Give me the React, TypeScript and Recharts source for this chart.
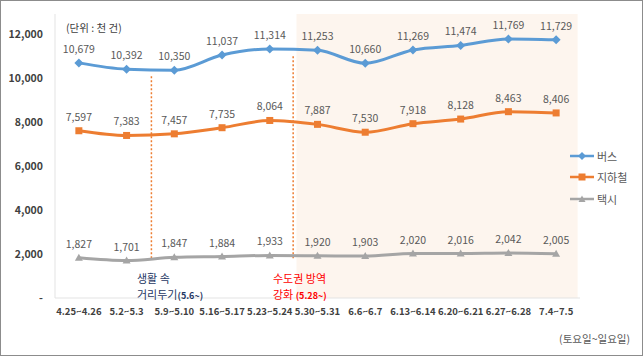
import React from "react";
import {
  LineChart,
  Line,
  XAxis,
  YAxis,
  LabelList,
  ReferenceArea,
  ReferenceLine,
} from "recharts";

const weeks = [
  "4.25~4.26",
  "5.2~5.3",
  "5.9~5.10",
  "5.16~5.17",
  "5.23~5.24",
  "5.30~5.31",
  "6.6~6.7",
  "6.13~6.14",
  "6.20~6.21",
  "6.27~6.28",
  "7.4~7.5",
];
const bus = [10679, 10392, 10350, 11037, 11314, 11253, 10660, 11269, 11474, 11769, 11729];
const subway = [7597, 7383, 7457, 7735, 8064, 7887, 7530, 7918, 8128, 8463, 8406];
const taxi = [1827, 1701, 1847, 1884, 1933, 1920, 1903, 2020, 2016, 2042, 2005];
const yTicks = [0, 2000, 4000, 6000, 8000, 10000, 12000];

const data = weeks.map((w, i) => ({
  idx: i,
  week: w,
  bus: bus[i],
  subway: subway[i],
  taxi: taxi[i],
}));

const FONT = '"Noto Sans CJK KR", "Noto Sans", sans-serif';
const BLUE = "#5b9bd5";
const ORANGE = "#ed7d31";
const GRAY = "#a5a5a5";

const fmt = (v: number) => v.toLocaleString("en-US");

const Diamond = (props: any) => {
  const { cx, cy, key } = props;
  return (
    <path
      key={key}
      d={`M${cx},${cy - 4.5}L${cx + 4.5},${cy}L${cx},${cy + 4.5}L${cx - 4.5},${cy}Z`}
      fill={BLUE}
    />
  );
};

const Square = (props: any) => {
  const { cx, cy, key } = props;
  return <rect key={key} x={cx - 3.5} y={cy - 3.5} width={7} height={7} fill={ORANGE} />;
};

const Triangle = (props: any) => {
  const { cx, cy, key } = props;
  return (
    <path
      key={key}
      d={`M${cx},${cy - 4}L${cx + 4},${cy + 3}L${cx - 4},${cy + 3}Z`}
      fill={GRAY}
    />
  );
};

const legendItems = [
  { name: "버스", color: BLUE, shape: "diamond" },
  { name: "지하철", color: ORANGE, shape: "square" },
  { name: "택시", color: GRAY, shape: "triangle" },
];

function LegendBox() {
  return (
    <div style={{ fontFamily: FONT, fontSize: 11, color: "#595959" }}>
      {legendItems.map((it) => (
        <div key={it.name} style={{ display: "flex", alignItems: "center", height: 21.5 }}>
          <svg width={26} height={10}>
            <line x1={1} y1={5} x2={25} y2={5} stroke={it.color} strokeWidth={2.5} />
            {it.shape === "diamond" && <path d="M13,1L17,5L13,9L9,5Z" fill={it.color} />}
            {it.shape === "square" && <rect x={9.5} y={1.5} width={7} height={7} fill={it.color} />}
            {it.shape === "triangle" && <path d="M13,1.5L16.5,8L9.5,8Z" fill={it.color} />}
          </svg>
          <span style={{ marginLeft: 2 }}>{it.name}</span>
        </div>
      ))}
    </div>
  );
}

const labelStyle = { fontFamily: FONT, fontSize: 10.5, fill: "#595959" };

export default function App() {
  return (
    <div
      style={{
        position: "absolute",
        left: 0,
        top: 0,
        width: 643,
        height: 356,
        boxSizing: "border-box",
        border: "1px solid #8c8c8c",
        background: "#fff",
        fontFamily: FONT,
      }}
    >
      <div style={{ position: "absolute", left: -1, top: -1 }}>
        <LineChart
          width={643}
          height={356}
          data={data}
          margin={{ top: 14, right: 63, bottom: 28, left: 0 }}
        >
          <ReferenceArea x1={4.56} x2={10.45} fill="#fdf5ee" fillOpacity={1} stroke="none" />
          <XAxis
            dataKey="idx"
            type="number"
            domain={[-0.5, 10.5]}
            ticks={weeks.map((_, i) => i)}
            interval={0}
            tickFormatter={(i: number) => weeks[i]}
            tick={{ fontFamily: FONT, fontSize: 9.5, fontWeight: 700, fill: "#404040" }}
            axisLine={{ stroke: "#e3e3e3" }}
            tickLine={false}
            tickMargin={4}
            height={30}
          />
          <YAxis
            width={55}
            domain={[0, 12900]}
            ticks={yTicks}
            interval={0}
            tickFormatter={(v: number) => (v === 0 ? "-" : fmt(v))}
            tick={{ fontFamily: FONT, fontSize: 10.5, fontWeight: 700, fill: "#404040" }}
            axisLine={{ stroke: "#e3e3e3" }}
            tickLine={false}
            tickMargin={6}
          />
          <ReferenceLine
            segment={[
              { x: 1.52, y: 1800 },
              { x: 1.52, y: 10100 },
            ]}
            stroke={ORANGE}
            strokeWidth={1.5}
            strokeDasharray="2 2"
          />
          <ReferenceLine
            segment={[
              { x: 4.49, y: 1800 },
              { x: 4.49, y: 11050 },
            ]}
            stroke={ORANGE}
            strokeWidth={1.5}
            strokeDasharray="2 2"
          />
          <Line
            type="monotone"
            dataKey="bus"
            name="버스"
            stroke={BLUE}
            strokeWidth={3}
            dot={Diamond}
            activeDot={false}
            isAnimationActive={false}
          >
            <LabelList dataKey="bus" position="top" offset={10} formatter={fmt} style={labelStyle} />
          </Line>
          <Line
            type="monotone"
            dataKey="subway"
            name="지하철"
            stroke={ORANGE}
            strokeWidth={3}
            dot={Square}
            activeDot={false}
            isAnimationActive={false}
          >
            <LabelList dataKey="subway" position="top" offset={10} formatter={fmt} style={labelStyle} />
          </Line>
          <Line
            type="monotone"
            dataKey="taxi"
            name="택시"
            stroke={GRAY}
            strokeWidth={3}
            dot={Triangle}
            activeDot={false}
            isAnimationActive={false}
          >
            <LabelList dataKey="taxi" position="top" offset={10} formatter={fmt} style={labelStyle} />
          </Line>
        </LineChart>
      </div>

      <div style={{ position: "absolute", left: 568, top: 144 }}>
        <LegendBox />
      </div>
      <div style={{ position: "absolute", left: 65, top: 19, fontSize: 10.5, color: "#404040" }}>
        (단위 : 천 건)
      </div>
      <div
        style={{
          position: "absolute",
          left: 136,
          top: 269,
          fontSize: 11,
          lineHeight: "16px",
          color: "#1f3864",
        }}
      >
        생활 속
        <br />
        거리두기<span style={{ fontSize: 9, fontWeight: 700 }}>(5.6~)</span>
      </div>
      <div
        style={{
          position: "absolute",
          left: 272,
          top: 269,
          fontSize: 11,
          lineHeight: "16px",
          color: "#ff0000",
        }}
      >
        수도권 방역
        <br />
        강화 <span style={{ fontSize: 9, fontWeight: 700 }}>(5.28~)</span>
      </div>
      <div style={{ position: "absolute", right: 12, top: 330, fontSize: 10.5, color: "#595959" }}>
        (토요일~일요일)
      </div>
    </div>
  );
}
